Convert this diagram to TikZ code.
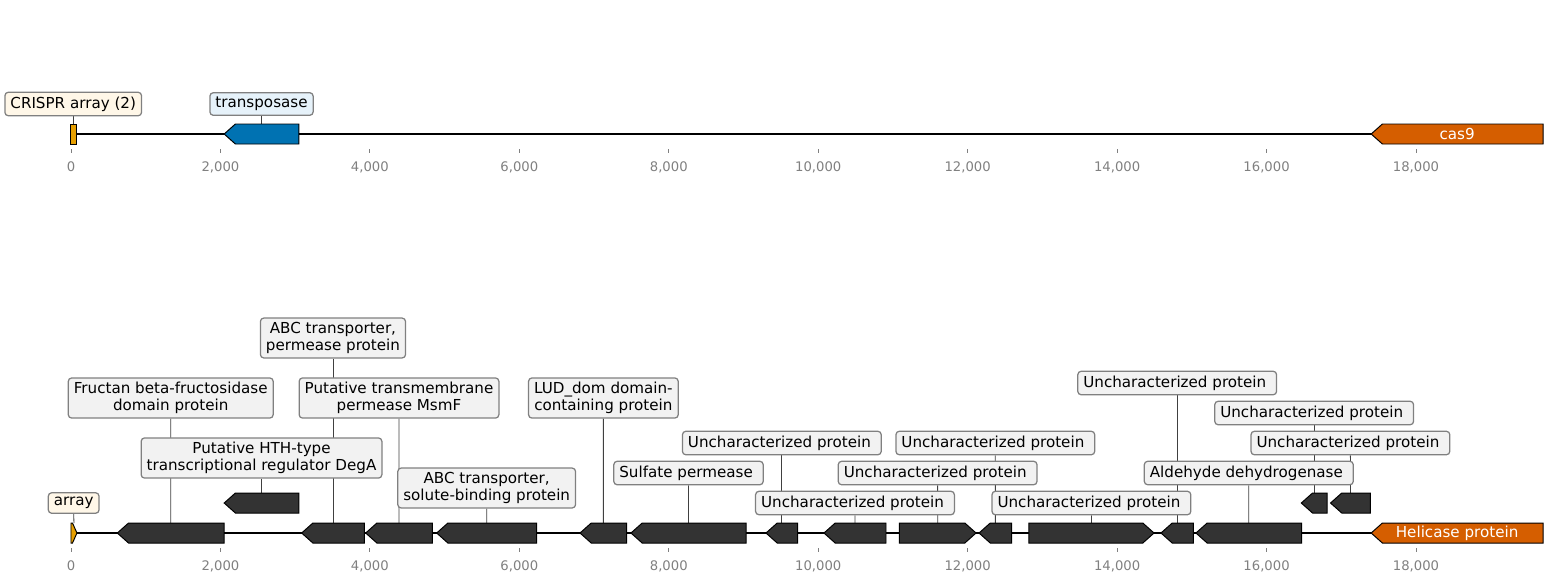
\documentclass[tikz,border=0pt]{standalone}
\usepackage{fontspec}
\setmainfont{DejaVu Sans}
\usetikzlibrary{backgrounds}

\definecolor{gnarray}{HTML}{E69F00}
\definecolor{gntransp}{HTML}{0072B2}
\definecolor{gncas}{HTML}{D55E00}
\definecolor{gndark}{HTML}{333333}
\definecolor{gnbox}{HTML}{F2F2F2}
\definecolor{gnboxarray}{HTML}{FFF7E8}
\definecolor{gnboxtransp}{HTML}{E6F2FA}

\tikzset{
    gn backbone/.style={line width=1.4pt, black},
    gn gene/.style={draw=black, line width=0.7pt, fill=gndark},
    gn label/.style={draw=black!50, line width=0.9pt, fill=gnbox,
                     rounded corners=2.5pt, inner xsep=4pt, inner ysep=3.2pt,
                     font=\fontsize{10.9}{12}\selectfont},
    gn label2/.style={gn label, align=center},
    gn link/.style={black!75, line width=0.6pt},
    gn tick/.style={black!50, line width=0.6pt},
    gn ticklabel/.style={text=black!50, anchor=base, inner sep=0pt,
                         font=\fontsize{9.5}{11}\selectfont},
    gn inner/.style={text=white, inner sep=0pt,
                     font=\fontsize{10.9}{12}\selectfont},
}

% x in kb, y in rows (downwards)
\def\gnhead{0.15}
\def\gnsp{\kern0.32em}
\newcommand{\geneleft}[5]{%
    \draw[#5] (#2,#4) -- (#2+\gnhead,#4-10) -- (#3,#4-10)
        -- (#3,#4+10) -- (#2+\gnhead,#4+10) -- cycle;
    \coordinate (#1) at ({(#2+#3)/2},#4-10);
}
\newcommand{\generight}[5]{%
    \draw[#5] (#2,#4-10) -- (#3-\gnhead,#4-10) -- (#3,#4)
        -- (#3-\gnhead,#4+10) -- (#2,#4+10) -- cycle;
    \coordinate (#1) at ({(#2+#3)/2},#4-10);
}

\begin{document}
\begin{tikzpicture}[x=53.8pt, y=-0.72pt]
    \useasboundingbox (-0.950,0) rectangle (19.820,582);

    % Top record
    \draw[gn backbone] (0,134) -- (19.7,134);
    \draw[gn gene, fill=gnarray] (-0.01,124) rectangle (0.07,144);
    \coordinate (crispr) at (0.03,124);
    \geneleft{transp}{2.05}{3.05}{134}{gn gene, fill=gntransp}
    \geneleft{cas}{17.4}{19.7}{134}{gn gene, fill=gncas}
    \node[gn inner] (lcas) at (18.55,134) {cas9};
    \node[gn label, fill=gnboxarray] (lcrispr) at (0.03,104) {CRISPR array (2)};
    \node[gn label, fill=gnboxtransp] (ltransp) at (2.55,104) {transposase};

    % Bottom record
    \draw[gn backbone] (0,533) -- (19.7,533);
    \draw[gn gene, fill=gnarray] (0,523) -- (0.02,523) -- (0.08,533)
        -- (0.02,543) -- (0,543) -- cycle;
    \coordinate (arr) at (0.04,523);
    \geneleft{g1}{0.62}{2.05}{533}{gn gene}
    \geneleft{g2}{2.05}{3.05}{503}{gn gene}
    \geneleft{g3}{3.087}{3.925}{533}{gn gene}
    \geneleft{g4}{3.944}{4.835}{533}{gn gene}
    \geneleft{g5}{4.894}{6.232}{533}{gn gene}
    \geneleft{g6}{6.812}{7.437}{533}{gn gene}
    \geneleft{g7}{7.494}{9.034}{533}{gn gene}
    \geneleft{g8}{9.301}{9.725}{533}{gn gene}
    \geneleft{g9}{10.077}{10.907}{533}{gn gene}
    \generight{g10}{11.085}{12.112}{533}{gn gene}
    \geneleft{g11}{12.152}{12.589}{533}{gn gene}
    \generight{g12}{12.818}{14.494}{533}{gn gene}
    \geneleft{g13}{14.587}{15.021}{533}{gn gene}
    \geneleft{g14}{15.055}{16.47}{533}{gn gene}
    \geneleft{g15}{16.465}{16.809}{503}{gn gene}
    \geneleft{g16}{16.856}{17.389}{503}{gn gene}
    \geneleft{heli}{17.4}{19.7}{533}{gn gene, fill=gncas}
    \node[gn inner] (lheli) at (18.55,533) {Helicase protein};

    % Labels
    \node[gn label, fill=gnboxarray] (larr) at (0.036,503) {array};
    \node[gn label2] (l1) at (1.335,398) {Fructan beta-fructosidase\\domain protein};
    \node[gn label2] (l2) at (2.55,458) {Putative HTH-type\\transcriptional regulator DegA};
    \node[gn label2] (l3) at (3.506,338) {ABC transporter,\\permease protein};
    \node[gn label2] (l4) at (4.39,398) {Putative transmembrane\\permease MsmF};
    \node[gn label2] (l5) at (5.563,488) {ABC transporter,\\solute-binding protein};
    \node[gn label2] (l6) at (7.125,398) {LUD\_dom domain-\\containing protein};
    \node[gn label] (l7) at (8.264,473) {Sulfate permease\gnsp};
    \node[gn label] (l8) at (9.513,443) {Uncharacterized protein\gnsp};
    \node[gn label] (l9) at (10.492,503) {Uncharacterized protein\gnsp};
    \node[gn label] (l10) at (11.598,473) {Uncharacterized protein\gnsp};
    \node[gn label] (l11) at (12.37,443) {Uncharacterized protein\gnsp};
    \node[gn label] (l12) at (13.656,503) {Uncharacterized protein\gnsp};
    \node[gn label] (l13) at (14.804,383) {Uncharacterized protein\gnsp};
    \node[gn label] (l14) at (15.762,473) {Aldehyde dehydrogenase\gnsp};
    \node[gn label] (l15) at (16.637,413) {Uncharacterized protein\gnsp};
    \node[gn label] (l16) at (17.122,443) {Uncharacterized protein\gnsp};

    % Leader lines behind the boxes
    \begin{scope}[on background layer]
        \draw[gn link] (lcrispr.south) -- (crispr);
        \draw[gn link] (ltransp.south) -- (transp);
        \draw[gn link] (larr.south) -- (arr);
        \foreach \i in {1,...,16} {
            \draw[gn link] (l\i.south) -- (g\i);
        }
    \end{scope}

    % Axes
    \foreach \v/\t in {0/0, 2/{2,000}, 4/{4,000}, 6/{6,000},
                       8/{8,000}, 10/{10,000}, 12/{12,000},
                       14/{14,000}, 16/{16,000}, 18/{18,000}} {
        \draw[gn tick] (\v,149) -- (\v,153);
        \node[gn ticklabel] (ta\v) at (\v,171.5) {\t};
        \draw[gn tick] (\v,548) -- (\v,552);
        \node[gn ticklabel] (tb\v) at (\v,570.7) {\t};
    }
\end{tikzpicture}
\end{document}
